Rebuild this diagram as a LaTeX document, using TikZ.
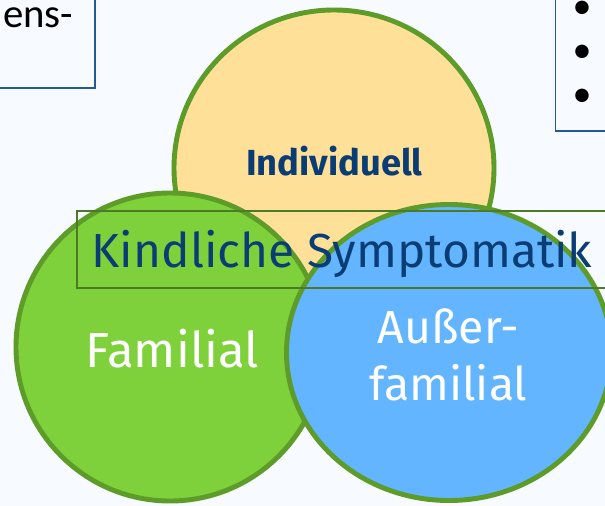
\documentclass[tikz,border=0pt]{standalone}
\usepackage{fontspec}
\setmainfont{Fira Sans}
\newfontfamily\notefont{Carlito}
\definecolor{pagetint}{HTML}{F7FAFE}
\definecolor{rimgreen}{HTML}{5E9C2A}
\definecolor{boxgreen}{HTML}{4D7A25}
\definecolor{sunyellow}{HTML}{FFE099}
\definecolor{leafgreen}{HTML}{7FD13B}
\definecolor{skyblue}{HTML}{62B5FE}
\definecolor{inkblue}{HTML}{0B3D75}
\definecolor{frameblue}{HTML}{215A98}

\begin{document}
\begin{tikzpicture}[x=0.025cm,y=-0.025cm,
  blob/.style={draw=rimgreen,line width=3.5pt},
  word/.style={anchor=base,inner sep=0pt}]
  \fill[pagetint] (0,0) rectangle (605,506);
  \useasboundingbox (0,0) rectangle (605,506);

  \begin{scope}
    \clip (0,0) rectangle (605,506);
    % boxes cut off by the page edge
    \draw[frameblue,line width=1pt] (-30,-20) rectangle (95,88);
    \node[word,anchor=base west,font=\notefont\fontsize{29}{34}\selectfont]
      (rest) at (3,27) {ens-};
    \draw[frameblue,line width=1pt] (555.5,-20) rectangle (640,131);
    \foreach \i/\y in {1/10,2/54,3/98}
      \node[font=\notefont\fontsize{27}{30}\selectfont,inner sep=0pt]
        (dot\i) at (582,\y) {•};

    % the three circles
    \coordinate (cindiv) at (334,168);
    \coordinate (cfam) at (170,347);
    \coordinate (caus) at (449,352.5);
    \draw[blob,fill=sunyellow] (cindiv) ellipse [x radius=160,y radius=158];
    \draw[blob,fill=leafgreen] (cfam) ellipse [x radius=154,y radius=154];
    \draw[blob,fill=skyblue] (caus) ellipse [x radius=162.5,y radius=148];

    \draw[boxgreen,line width=1pt] (77,211) rectangle (640,288);
  \end{scope}

  \node[word,inkblue,font=\bfseries\fontsize{25.8}{30}\selectfont]
    (indiv) at (334.5,175) {Individuell};
  \node[word,inkblue,font=\fontsize{34}{40}\selectfont]
    (kind) at (342,267) {Kindliche Symptomatik};
  \node[word,white,font=\fontsize{35}{40}\selectfont]
    (fam) at (172.5,367) {Familial};
  \node[word,white,align=center,font=\fontsize{33}{40.5}\selectfont]
    (aus) at (448.5,400) {Außer-\\familial};
\end{tikzpicture}
\end{document}
